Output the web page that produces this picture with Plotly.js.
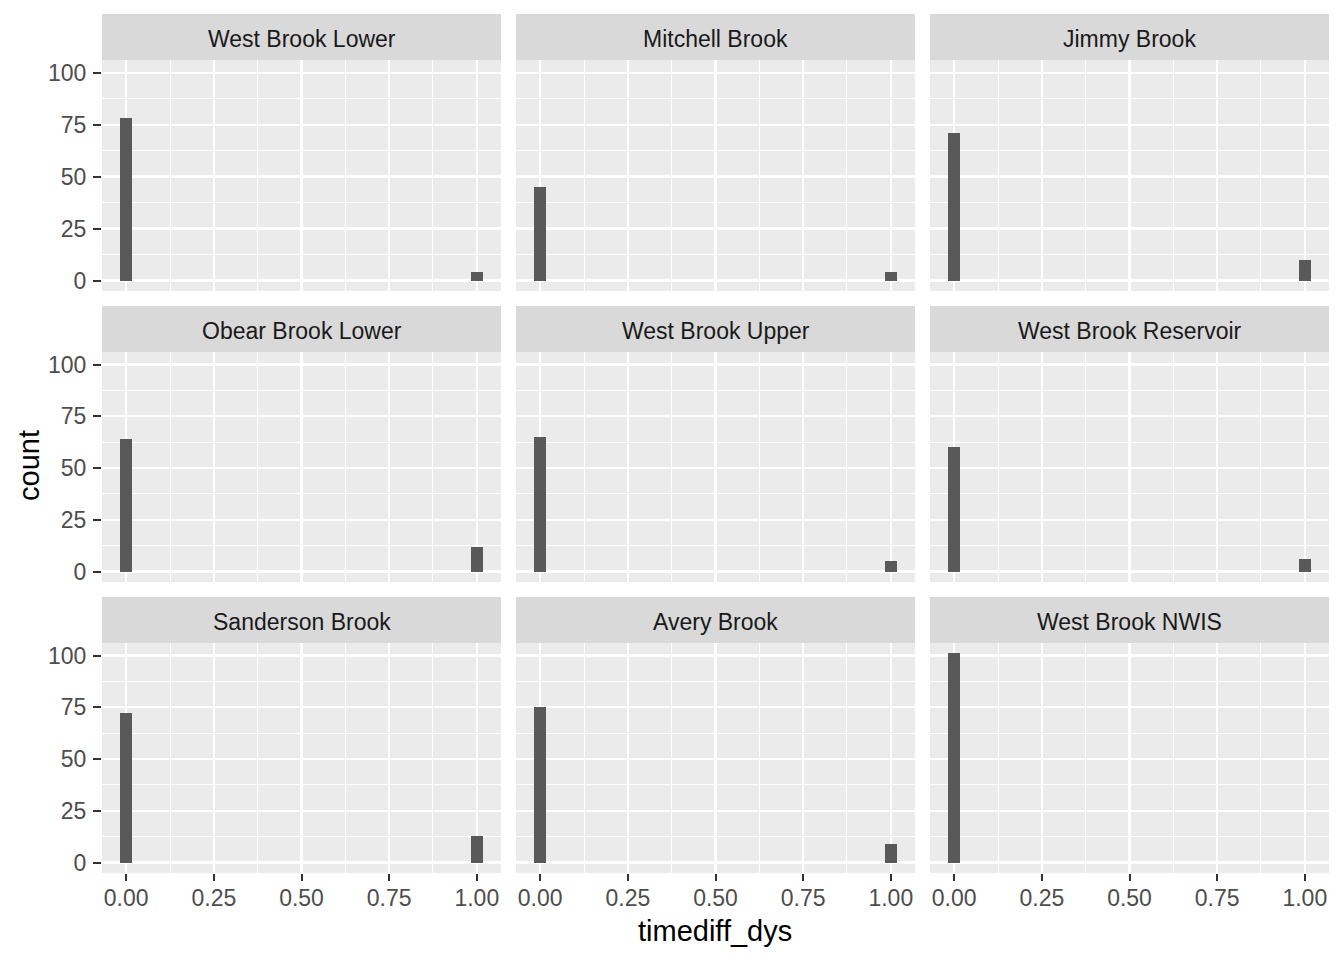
<!DOCTYPE html>
<html>
<head>
<meta charset="utf-8">
<script src="https://cdn.plot.ly/plotly-3.0.1.min.js"></script>
<style>html,body{margin:0;padding:0;background:#fff;}#chart{width:1344px;height:960px;}</style>
</head>
<body>
<div id="chart"></div>
<script>
const facets = ["West Brook Lower","Mitchell Brook","Jimmy Brook",
  "Obear Brook Lower","West Brook Upper","West Brook Reservoir",
  "Sanderson Brook","Avery Brook","West Brook NWIS"];
const binCenters = [0, 1];
const countsAt0 = [78, 45, 71, 64, 65, 60, 72, 75, 101];
const countsAt1 = [4, 4, 10, 12, 5, 6, 13, 9, 0];
const xTickVals = [0, 0.25, 0.5, 0.75, 1];
const yTickVals = [0, 25, 50, 75, 100];
const binWidth = 1 / 29;

const W = 1344, H = 960;
const colPx = [[102, 501], [516, 915], [930, 1329]];
const rowPx = [[60, 291], [352, 582], [643, 873]];
const stripH = 46;

const FONT = "Liberation Sans, Arial, sans-serif";
const data = [];
const layout = {
  width: W, height: H,
  margin: {l: 0, r: 0, t: 0, b: 0},
  paper_bgcolor: "#FFFFFF",
  plot_bgcolor: "#EBEBEB",
  showlegend: false,
  bargap: 0,
  shapes: [], annotations: []
};

facets.forEach((name, i) => {
  const r = Math.floor(i / 3), c = i % 3;
  const n = i + 1;
  const xa = "xaxis" + (n === 1 ? "" : n), ya = "yaxis" + (n === 1 ? "" : n);
  const xr = "x" + (n === 1 ? "" : n), yr = "y" + (n === 1 ? "" : n);
  data.push({
    type: "bar", x: binCenters, y: [countsAt0[i], countsAt1[i]],
    width: [binWidth, binWidth],
    marker: {color: "#595959", line: {width: 0}},
    xaxis: xr, yaxis: yr, hoverinfo: "x+y"
  });
  const isBottom = r === 2, isLeft = c === 0;
  layout[xa] = {
    domain: [colPx[c][0] / W, colPx[c][1] / W],
    anchor: yr, range: [-0.069, 1.069],
    tickvals: xTickVals, tickformat: ".2f",
    showticklabels: isBottom,
    ticks: isBottom ? "outside" : "", ticklen: 7, tickwidth: 2, tickcolor: "#333333",
    ticklabelstandoff: -3,
    tickfont: {family: FONT, size: 23, color: "#4D4D4D"},
    showgrid: true, gridcolor: "#FFFFFF", gridwidth: 2.1,
    minor: {tickvals: [0.125, 0.375, 0.625, 0.875], showgrid: true, gridcolor: "#FFFFFF", gridwidth: 1, ticks: ""},
    zeroline: false, showline: false, fixedrange: true
  };
  layout[ya] = {
    domain: [1 - rowPx[r][1] / H, 1 - rowPx[r][0] / H],
    anchor: xr, range: [-5.05, 106.05],
    tickvals: yTickVals,
    showticklabels: isLeft,
    ticks: isLeft ? "outside" : "", ticklen: 8, tickwidth: 2, tickcolor: "#333333",
    ticklabelstandoff: 2,
    tickfont: {family: FONT, size: 23, color: "#4D4D4D"},
    showgrid: true, gridcolor: "#FFFFFF", gridwidth: 2.1,
    minor: {tickvals: [12.5, 37.5, 62.5, 87.5], showgrid: true, gridcolor: "#FFFFFF", gridwidth: 1, ticks: ""},
    zeroline: false, showline: false, fixedrange: true
  };
  layout.shapes.push({
    type: "rect", xref: "paper", yref: "paper",
    x0: colPx[c][0] / W, x1: colPx[c][1] / W,
    y0: 1 - rowPx[r][0] / H, y1: 1 - (rowPx[r][0] - stripH) / H,
    fillcolor: "#D9D9D9", line: {width: 0}, layer: "below"
  });
  layout.annotations.push({
    xref: "paper", yref: "paper",
    x: (colPx[c][0] + colPx[c][1]) / 2 / W,
    y: 1 - (rowPx[r][0] - stripH / 2 + 2) / H,
    text: name, showarrow: false, xanchor: "center", yanchor: "middle",
    font: {family: FONT, size: 23, color: "#1A1A1A"}
  });
});

layout.annotations.push({
  xref: "paper", yref: "paper", x: 715 / W, y: 1 - 931 / H,
  text: "timediff_dys", showarrow: false, xanchor: "center", yanchor: "middle",
  font: {family: FONT, size: 29, color: "#000000"}
});
layout.annotations.push({
  xref: "paper", yref: "paper", x: 29 / W, y: 1 - 466 / H,
  text: "count", showarrow: false, textangle: -90, xanchor: "center", yanchor: "middle",
  font: {family: FONT, size: 29, color: "#000000"}
});

Plotly.newPlot("chart", data, layout, {staticPlot: true, displayModeBar: false});
</script>
</body>
</html>
